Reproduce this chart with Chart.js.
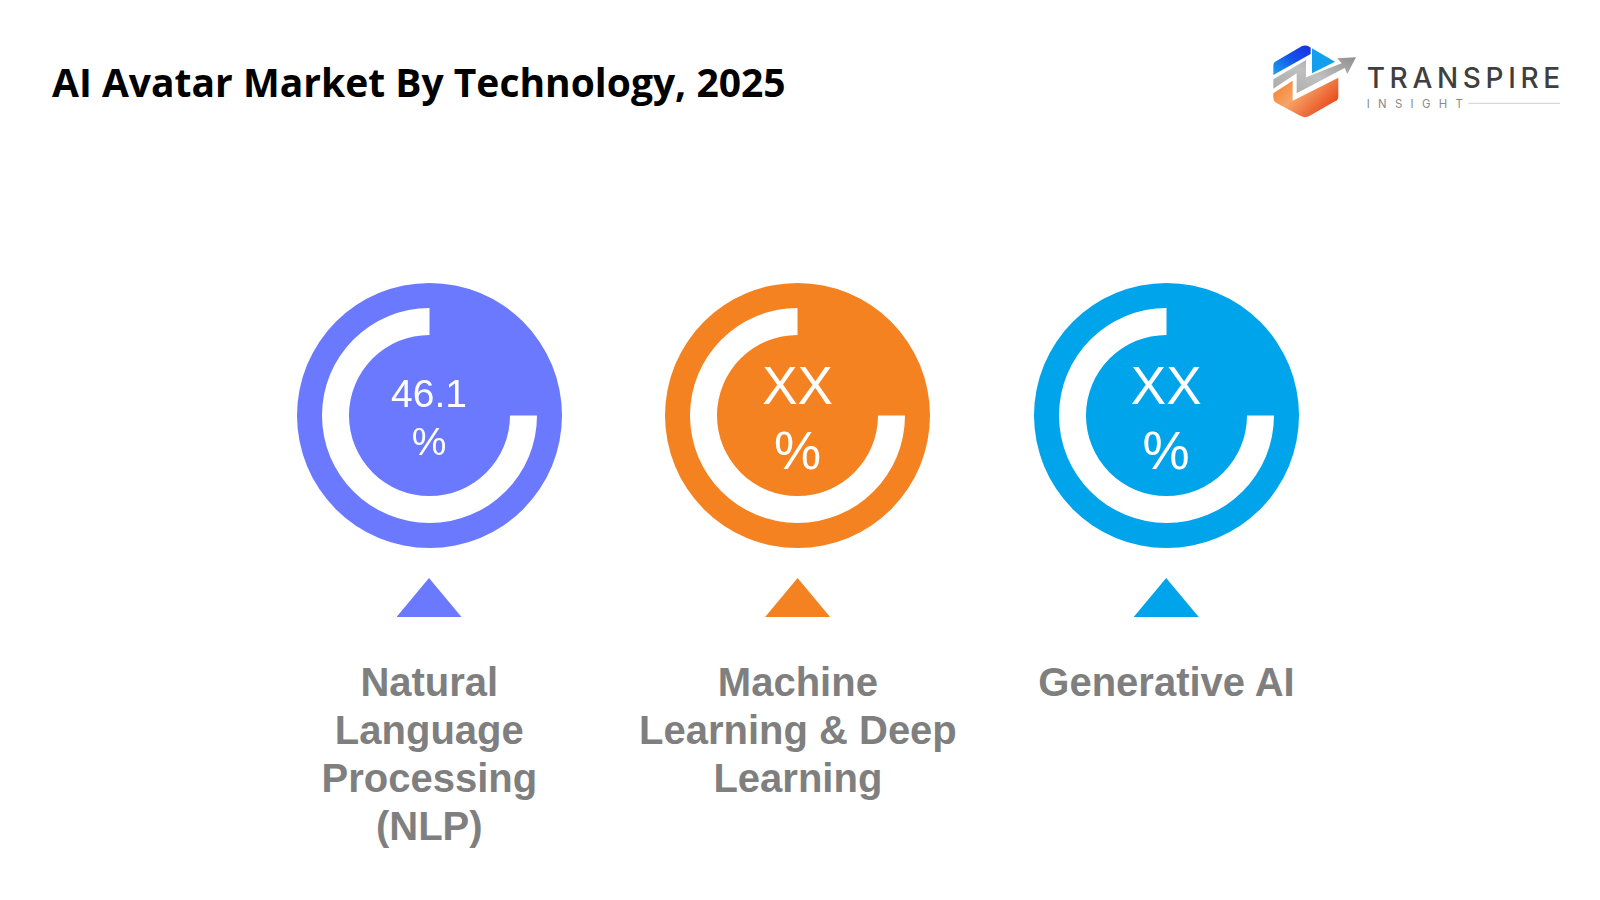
<!DOCTYPE html>
<html>
<head>
<meta charset="utf-8">
<title>AI Avatar Market By Technology, 2025</title>
<script src="https://cdn.jsdelivr.net/npm/chart.js@4"></script>
<style>
  html, body { margin: 0; padding: 0; background: #fff; }
  #page { position: relative; width: 1600px; height: 900px; overflow: hidden; }
  #title { position: absolute; left: 52px; top: 55px; font: 700 39px "Open Sans", sans-serif; color: #000; white-space: nowrap; }
  #logo { position: absolute; left: 1250px; top: 30px; }
  #columns { position: absolute; left: 245px; top: 283px; display: grid; grid-template-columns: repeat(3, 368.6px); }
  .col { position: relative; height: 600px; }
  .gauge { position: absolute; left: 51.5px; top: 0; width: 265px; height: 265px; border-radius: 50%; }
  .gauge canvas { position: absolute; left: 0; top: 0; }
  .value { position: absolute; left: 51.5px; width: 265px; text-align: center; color: #fff; font-family: "Liberation Sans", sans-serif; line-height: 1; }
  .tri { position: absolute; left: 151.5px; top: 295px; width: 65px; height: 39px; clip-path: polygon(50% 0, 100% 100%, 0 100%); }
  .label { position: absolute; left: 0; right: 0; top: 375px; text-align: center; font: 700 40px/48px "Liberation Sans", sans-serif; color: #7f7f7f; }
</style>
</head>
<body>
<div id="page">
  <div id="title">AI Avatar Market By Technology, 2025</div>
  <svg id="logo" width="330" height="100" viewBox="0 0 990 300">
    <defs>
      <linearGradient id="blueGrad" x1="0" y1="1" x2="1" y2="0">
        <stop offset="0" stop-color="#1aa4ee"/><stop offset="0.55" stop-color="#1450ea"/><stop offset="1" stop-color="#1a2fe0"/>
      </linearGradient>
      <linearGradient id="orangeGrad" x1="0" y1="0" x2="1" y2="0.6">
        <stop offset="0" stop-color="#f47a20"/><stop offset="0.45" stop-color="#f6a468"/><stop offset="1" stop-color="#e8481a"/>
      </linearGradient>
      <linearGradient id="greyGrad" x1="0" y1="1" x2="1" y2="0">
        <stop offset="0" stop-color="#a8a8a8"/><stop offset="0.5" stop-color="#c0c0c0"/><stop offset="1" stop-color="#8f8f8f"/>
      </linearGradient>
    </defs>
    <path d="M70 135 V105 Q70 98 78 94 L155 49 Q165 43 178 50 L182 53 V72 Z" fill="url(#blueGrad)"/>
    <path d="M186 55 L255 95 L186 130 Z" fill="#12a0ee"/>
    <path d="M70 148 L168 90 V142 L275 100 L262 85 L318 82 L292 132 L284 114 L140 190 V130 L70 176 Z" fill="url(#greyGrad)"/>
    <path d="M70 190 L128 152 V212 L265 143 V200 Q265 210 255 214 L178 258 Q165 265 152 258 L78 218 Q70 214 70 205 Z" fill="url(#orangeGrad)"/>
    <text x="350" y="174" font-family="Inter, sans-serif" font-size="84" font-weight="500" letter-spacing="14" fill="#3f3f3f">TRANSPIRE</text>
    <text x="350" y="235" font-family="Inter, sans-serif" font-size="34" letter-spacing="25" fill="#8a8a8a">INSIGHT</text>
    <line x1="655" y1="220" x2="930" y2="220" stroke="#cfcfcf" stroke-width="3"/>
  </svg>
  <div id="columns"></div>
</div>
<script>
const categories = [
    ["Natural", "Language", "Processing", "(NLP)"],
    ["Machine", "Learning & Deep", "Learning"],
    ["Generative AI"]
]
const valueLabels = ["46.1", "XX", "XX"]
const unitLabels = ["%", "%", "%"]
// the ring looks the same on all three, it is not scaled to the value
const ringGap = [25, 25, 25]
const ringFill = [75, 75, 75]

const colors = ["#6b79ff", "#f58220", "#00a4eb"]

window.addEventListener('load', (event) => {
    try {
        buildColumns()
    } catch (e) {
        console.error(e)
    }
});

function addValueText(col, text, top, size) {
    const el = document.createElement('div')
    el.className = 'value'
    el.style.top = top + 'px'
    el.style.fontSize = size + 'px'
    el.textContent = text
    col.appendChild(el)
}

function buildColumns() {
    const columns = document.getElementById('columns')

    categories.forEach((lines, i) => {
        const col = document.createElement('div')
        col.className = 'col'

        const gauge = document.createElement('div')
        gauge.className = 'gauge'
        gauge.style.background = colors[i]
        const canvas = document.createElement('canvas')
        canvas.width = 265
        canvas.height = 265
        gauge.appendChild(canvas)
        col.appendChild(gauge)

        // first label is set smaller than the XX ones
        if (valueLabels[i] === "XX") {
            addValueText(col, valueLabels[i], 76, 53)
            addValueText(col, unitLabels[i], 141, 53)
        } else {
            addValueText(col, valueLabels[i], 91, 39)
            addValueText(col, unitLabels[i], 139, 39)
        }

        const tri = document.createElement('div')
        tri.className = 'tri'
        tri.style.background = colors[i]
        col.appendChild(tri)

        const label = document.createElement('div')
        label.className = 'label'
        lines.forEach((line) => {
            const row = document.createElement('div')
            row.textContent = line
            label.appendChild(row)
        })
        col.appendChild(label)

        columns.appendChild(col)

        new Chart(canvas, {
            type: 'doughnut',
            data: {
                labels: ["gap", "ring"],
                datasets: [{
                    data: [ringGap[i], ringFill[i]],
                    backgroundColor: [colors[i], "#ffffff"],
                    borderWidth: 0
                }]
            },
            options: {
                responsive: false,
                animation: false,
                radius: 107.5,
                cutout: '74.9%',
                plugins: {
                    legend: { display: false },
                    tooltip: { enabled: false }
                }
            }
        })
    })
}
</script>
</body>
</html>
